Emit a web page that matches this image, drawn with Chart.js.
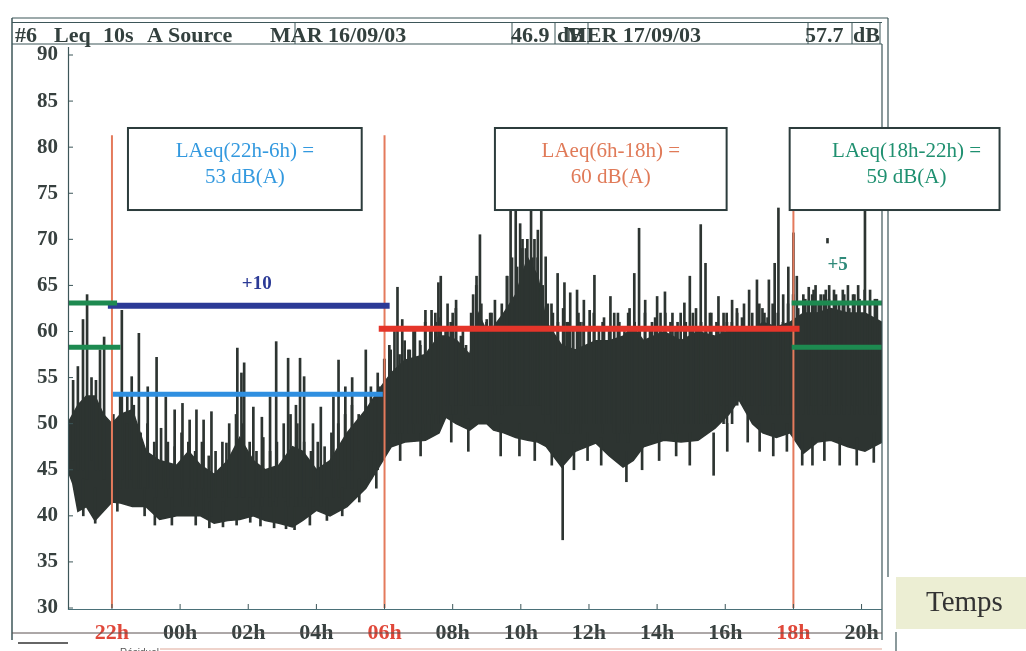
<!DOCTYPE html>
<html><head><meta charset="utf-8">
<script src="https://cdn.jsdelivr.net/npm/chart.js@4/dist/chart.umd.min.js"></script>
<style>html,body{margin:0;padding:0;background:#fff;overflow:hidden}canvas{display:block}</style>
</head><body>
<canvas id="c" width="1026" height="651" style="width:1026px;height:651px"></canvas>
<script>
// ---- axis ticks ----
const xTickValues = [22, 24, 26, 28, 30, 32, 34, 36, 38, 40, 42, 44];
const xTickLabels = ['22h', '00h', '02h', '04h', '06h', '08h', '10h', '12h', '14h', '16h', '18h', '20h'];
const periodHours = [22, 30, 42];          // 22h, 06h, 18h period limits
const periodLineTop = 81.3;

// ---- Leq 10s trace, dense core envelope (hours since 00h of 16/09) ----
const envHours = [20.70, 20.85, 21.00, 21.25, 21.50, 21.75, 22.00, 22.25, 22.60, 23.00, 23.40, 23.90, 24.25, 24.60, 25.00, 25.40, 25.75, 26.15, 26.50, 26.90, 27.30, 27.60, 28.00, 28.40, 28.90, 29.45, 29.90, 30.20, 30.60, 31.20, 31.60, 31.80, 32.10, 32.50, 32.75, 33.00, 33.20, 33.50, 33.85, 34.20, 34.50, 34.75, 35.20, 35.60, 36.20, 36.60, 37.00, 37.30, 37.60, 38.20, 38.70, 39.20, 39.70, 40.10, 40.40, 40.80, 41.10, 41.50, 41.90, 42.30, 42.70, 43.10, 43.60, 44.10, 44.60];
const envLow = [45, 43.5, 40.5, 41, 39.5, 40.5, 41.5, 41.4, 41, 41, 39.6, 40, 40, 40, 39.2, 39.5, 39.6, 40, 39.5, 39.2, 38.8, 39.5, 40.6, 40, 41, 43, 45.7, 47.5, 48, 48.2, 49, 50.7, 50, 49.3, 50, 50, 49.3, 49, 48.5, 48.2, 48, 47.5, 45.3, 47, 47.9, 46.5, 45.3, 46, 47.5, 48.2, 48, 48.2, 49.5, 51, 52.6, 50, 49, 48.5, 49, 46.8, 48, 48.2, 47.5, 47, 48];
const envHigh = [50, 51, 52, 53, 53, 51, 50, 51, 51.5, 47, 46, 45.5, 47, 45.5, 44.5, 46, 48.5, 46, 45, 45.5, 47.5, 47, 45, 46, 49, 51.5, 54, 55.5, 56.9, 57.5, 59.5, 59.5, 59.1, 57.5, 62, 60, 60.5, 62, 64, 68, 66, 61, 58.5, 58, 59, 59, 59.5, 60.5, 59, 60, 59, 60, 59.5, 60, 60.5, 60, 61, 60.5, 61, 62, 62, 62.5, 62, 62, 61];

// ---- upward peaks ----
const peakHours = [20.86, 21.00, 21.15, 21.27, 21.40, 21.53, 21.65, 21.77, 22.29, 22.45, 22.58, 22.79, 23.05, 23.31, 23.58, 23.84, 24.07, 24.28, 24.48, 24.69, 24.92, 25.36, 25.68, 25.80, 25.88, 26.15, 26.40, 26.64, 26.82, 27.17, 27.40, 27.52, 27.64, 27.90, 28.13, 28.50, 28.65, 28.85, 29.05, 29.45, 29.60, 29.80, 30.00, 30.18, 30.38, 30.52, 30.70, 30.85, 31.05, 31.20, 31.38, 31.50, 31.58, 31.65, 31.85, 32.00, 32.10, 32.30, 32.60, 32.70, 32.80, 33.00, 33.10, 33.24, 33.45, 33.60, 33.70, 33.85, 33.98, 34.05, 34.15, 34.30, 34.40, 34.50, 34.60, 34.73, 34.90, 35.08, 35.28, 35.35, 35.45, 35.65, 35.75, 35.85, 36.02, 36.16, 36.40, 36.63, 36.85, 37.15, 37.33, 37.47, 37.65, 37.85, 38.00, 38.10, 38.23, 38.45, 38.60, 38.80, 38.96, 39.05, 39.28, 39.42, 39.55, 39.80, 39.95, 40.05, 40.20, 40.35, 40.55, 40.70, 40.93, 41.00, 41.15, 41.28, 41.45, 41.56, 41.70, 41.85, 42.00, 42.10, 42.35, 42.45, 42.55, 42.65, 42.80, 42.95, 43.00, 43.05, 43.25, 43.45, 43.60, 43.75, 43.90, 44.10, 44.25, 44.45];
const peakLow = [46, 45, 45, 44, 46, 45, 45, 44, 44, 44, 44, 43, 43, 42, 42, 41, 41, 41, 41, 40, 40, 41, 42, 42, 42, 41, 41, 41, 41, 41, 41, 41, 41, 41, 41, 42, 42, 43, 43, 44, 44, 45, 47, 48, 48, 49, 49, 49, 49, 49, 49, 50, 50, 50, 51, 51, 51, 50, 52, 52, 52, 52, 50, 51, 51, 52, 52, 52, 52, 52, 52, 52, 52, 52, 52, 50, 50, 50, 50, 49, 50, 50, 49, 50, 50, 50, 49, 50, 48, 48, 50, 50, 50, 49, 50, 49, 50, 49, 49, 50, 50, 50, 50, 50, 50, 50, 50, 50, 50, 52, 52, 52, 52, 52, 52, 52, 52, 52, 52, 52, 52, 52, 52, 52, 52, 52, 52, 52, 69.6, 52, 52, 52, 52, 52, 52, 54, 52, 52];
const peakHigh = [54.7, 56.2, 61.3, 64.0, 55, 54.7, 58, 59.4, 62.3, 53, 55.1, 59.8, 54, 57.2, 52.9, 51.5, 52.2, 50.4, 51.5, 50.4, 51.3, 47.9, 58.2, 55.5, 56.6, 51.8, 50.7, 52.9, 58.9, 57.1, 52, 57.1, 55.1, 50, 51.8, 52.9, 56.9, 54, 55, 58, 54, 55.5, 57, 58, 64.8, 61.3, 58, 60, 58.5, 62.3, 62.3, 61, 65.3, 66, 63, 62, 63.4, 60, 64, 66, 70.5, 61.3, 62, 63.4, 60, 66, 75, 75, 71.7, 70, 69, 75, 70, 71, 75, 68.1, 63, 66.3, 65.3, 61, 64.2, 64.5, 61, 63.4, 62.3, 66.1, 61, 63.8, 62, 62, 66.3, 71.2, 63.4, 61, 63.8, 62, 64.3, 62, 61, 63.1, 66, 62, 71.6, 67.4, 62, 63.8, 62, 61, 63.4, 62, 63, 64.5, 65.6, 63, 62, 65.6, 67.4, 73.4, 64, 67, 70.7, 66, 63.5, 64.8, 64, 65, 64, 64.5, 70.1, 65, 64, 64.5, 65, 64, 65, 75, 64.5, 63.5];

// ---- dense background fluctuation lines ----
const midHours = [22.1, 22.3, 22.5, 22.7, 22.9, 23.1, 23.3, 23.5, 23.7, 23.9, 24.1, 24.3, 24.5, 24.7, 24.9, 25.1, 25.3, 25.5, 25.7, 25.9, 26.1, 26.3, 26.5, 26.7, 26.9, 27.1, 27.3, 27.5, 27.7, 27.9, 28.1, 28.3, 28.5, 28.7, 28.9, 29.1, 29.3, 29.5, 29.7, 29.9,
  30.05, 30.20, 30.35, 30.50, 30.65, 30.80, 30.95, 31.10, 31.25, 31.40, 31.55, 31.70, 31.85, 32.00, 32.15, 32.30, 32.45, 32.60, 32.75, 32.90, 33.05, 33.20, 33.35, 33.50, 33.65, 33.80, 33.95, 34.10, 34.25, 34.40, 34.55, 34.70, 34.85, 35.00, 35.15, 35.30, 35.45, 35.60, 35.75, 35.90, 36.05, 36.20, 36.35, 36.50, 36.65, 36.80, 36.95, 37.10, 37.25, 37.40, 37.55, 37.70, 37.85, 38.00, 38.15, 38.30, 38.45, 38.60, 38.75, 38.90, 39.05, 39.20, 39.35, 39.50, 39.65, 39.80, 39.95, 40.10, 40.25, 40.40, 40.55, 40.70, 40.85, 41.00, 41.15, 41.30, 41.45, 41.60, 41.75, 41.90, 42.05, 42.20, 42.35, 42.50, 42.65, 42.80, 42.95, 43.10, 43.25, 43.40, 43.55, 43.70, 43.85, 44.00, 44.15, 44.30, 44.45];
const midLow = [43, 43, 43, 43, 43, 43, 43, 43, 43, 43, 43, 43, 43, 43, 42, 42, 42, 42, 42, 42, 42, 42, 42, 42, 42, 42, 42, 42, 42, 42, 43, 43, 44, 44, 45, 45, 46, 46, 47, 48,
  49, 49, 49, 49, 50, 50, 50, 50, 50, 51, 51, 51, 52, 52, 52, 52, 51, 52, 52, 52, 52, 52, 52, 52, 52, 52, 52, 52, 52, 52, 52, 51, 51, 50, 49, 49, 49, 49, 50, 50, 50, 50, 50, 50, 50, 49, 49, 49, 49, 50, 50, 50, 50, 50, 50, 50, 50, 50, 50, 50, 50, 50, 50, 51, 51, 51, 52, 52, 53, 53, 53, 52, 52, 51, 51, 51, 51, 51, 51, 51, 51, 51, 51, 51, 51, 51, 51, 51, 51, 51, 51, 51, 51, 51, 51, 51, 51];
const midHigh = [51, 53, 50, 52, 49, 50, 48, 49.5, 48, 47.5, 49, 48, 47, 48, 46.5, 47, 48, 50, 51, 50, 48, 47, 48.5, 47, 48, 50, 51, 50, 48, 47, 48, 47.5, 49, 50, 51, 52, 51, 53, 52.5, 54,
  57, 58.5, 60, 57.5, 59, 58, 60.5, 59, 61, 60, 62, 61.5, 60, 61, 62.5, 59.5, 58.5, 62, 65, 63, 61, 62, 61, 63, 66, 68, 67, 69, 70, 68, 68, 65, 63, 62, 61, 62.5, 61, 60.5, 62, 61, 60, 62, 60.5, 61.5, 60, 62, 61, 60, 62.5, 61, 60, 62, 60.5, 61.5, 60, 62, 61, 60, 62, 61, 60.5, 62.5, 61, 60, 62, 61, 60.5, 62, 61, 62.5, 61.5, 60.5, 62, 61, 62.5, 61.5, 63, 62, 61, 63, 64, 62.5, 64, 63, 64.5, 63, 64, 63.5, 64.5, 63, 64, 62.5, 64, 63.5, 64.5, 63, 63.5];

// ---- downward dips ----
const dipHours = [21.10, 21.45, 22.10, 22.90, 23.20, 23.70, 24.40, 24.80, 25.20, 25.60, 26.00, 26.30, 26.70, 27.05, 27.30, 27.75, 28.25, 28.70, 29.20, 29.70, 30.40, 31.00, 31.90, 32.40, 33.35, 33.90, 34.35, 34.85, 35.17, 35.50, 35.90, 36.30, 37.04, 37.50, 38.00, 38.50, 38.90, 39.60, 40.00, 40.60, 40.95, 41.35, 41.75, 42.20, 42.50, 42.85, 43.30, 43.80, 44.30];
const dipLow = [40, 39.2, 40.5, 40, 39, 39, 39, 38.7, 38.8, 39, 39.3, 38.9, 38.7, 38.6, 38.5, 39, 39.5, 40, 41.5, 43, 46, 46.5, 48, 47, 46.5, 46.5, 46, 45.5, 37.4, 45, 46, 45.5, 43.7, 45, 46, 46.5, 45.5, 44.4, 47, 48, 47, 46.5, 47, 45.5, 45.5, 46, 45.5, 45.5, 45.8];
const dipHigh = [44, 43, 44, 43, 42, 42, 42, 41.5, 41.5, 42, 42, 42, 41.5, 41.5, 41, 42, 42, 43, 44, 46, 49, 49.5, 51, 50.5, 50, 50, 49, 49, 47, 48, 49, 48.5, 47, 48, 49, 49, 49, 49, 50, 51, 50, 50, 50, 49, 48.5, 49, 48.5, 48.5, 49];

// ---- LAeq levels and limits (dB(A)) with their time spans ----
const eveningLeq = 58.3, eveningLimit = 63.1;
const nightLeq = 53.2, nightLimit = 62.8;
const dayLeq = 60.3;
const eveningStartSpan = [20.62, 22.15];
const nightLimitSpan = [21.88, 30.15];
const nightLeqSpan = [22.03, 29.95];
const daySpan = [29.83, 42.18];
const eveningEndSpan = [41.95, 44.6];

const TRACE = '#2d3431';
const pts = (hs, vs) => hs.map((h, i) => ({x: h, y: vs[i]}));
const bars = (hs, lo, hi) => hs.map((h, i) => ({x: h, y: [lo[i], hi[i]]}));
const hline = (span, v, color, w) => ({type: 'line', data: [{x: span[0], y: v}, {x: span[1], y: v}], borderColor: color, borderWidth: w, pointRadius: 0, order: 1, borderCapStyle: 'butt'});

const datasets = [
  {type: 'line', data: pts(envHours, envLow), borderColor: TRACE, borderWidth: 1.5, pointRadius: 0, fill: false, order: 10},
  {type: 'line', data: pts(envHours, envHigh), borderColor: TRACE, borderWidth: 1.5, pointRadius: 0, fill: '-1', backgroundColor: TRACE, order: 10},
  {type: 'bar', data: bars(midHours, midLow, midHigh), backgroundColor: TRACE, barThickness: 2, order: 9},
  {type: 'bar', data: bars(peakHours, peakLow, peakHigh), backgroundColor: TRACE, barThickness: 2, order: 9},
  {type: 'bar', data: bars(dipHours, dipLow, dipHigh), backgroundColor: TRACE, barThickness: 2, order: 9}
];
periodHours.forEach(h => datasets.push({type: 'line', data: [{x: h, y: 30}, {x: h, y: periodLineTop}], borderColor: '#e47a5c', borderWidth: 2, pointRadius: 0, order: 2}));
datasets.push(hline(eveningStartSpan, eveningLimit, '#1d8a50', 5));
datasets.push(hline([eveningStartSpan[0], eveningStartSpan[1] + 0.1], eveningLeq, '#1d8a50', 5));
datasets.push(hline(nightLimitSpan, nightLimit, '#2b3a96', 6));
datasets.push(hline(nightLeqSpan, nightLeq, '#2f8fe0', 5));
datasets.push(hline(daySpan, dayLeq, '#e5352a', 6));
datasets.push(hline(eveningEndSpan, eveningLimit, '#1d8a50', 5));
datasets.push(hline(eveningEndSpan, eveningLeq, '#1d8a50', 5));

const notes = [
  {x0: 22.47, x1: 29.33, cx: 25.90, lines: ['LAeq(22h-6h) =', '53 dB(A)'], color: '#3399df'},
  {x0: 33.24, x1: 40.04, cx: 36.64, lines: ['LAeq(6h-18h) =', '60 dB(A)'], color: '#e07a58'},
  {x0: 41.89, x1: 48.05, cx: 45.32, lines: ['LAeq(18h-22h) =', '59 dB(A)'], color: '#1f9070'}
];

const decor = {
  id: 'decor',
  afterDraw(chart) {
    const c = chart.ctx, X = chart.scales.x, Y = chart.scales.y;
    const px = v => X.getPixelForValue(v), py = v => Y.getPixelForValue(v);
    const line = (x1, y1, x2, y2, col, w) => { c.beginPath(); c.moveTo(x1, y1); c.lineTo(x2, y2); c.strokeStyle = col; c.lineWidth = w; c.stroke(); };
    c.save();
    const FR = '#3d5659';
    // frame
    line(12, 18, 888, 18, FR, 1.2);
    line(12, 22.5, 882, 22.5, FR, 1.2);
    line(12, 44, 882, 44, FR, 1.2);
    line(12, 18, 12, 640, FR, 1.5);
    line(888, 18, 888, 577, FR, 1.2);
    [295, 512, 555, 588, 808, 852, 880].forEach(x => line(x, 22, x, 44, FR, 1));
    line(882, 44, 882, 640, FR, 1.2);
    line(68.5, 47, 68.5, 610, FR, 1.2);
    line(68, 609.5, 882, 609.5, '#4a7078', 1.2);
    line(12, 633, 882, 633, '#5a5050', 1);
    line(160, 649, 882, 649, '#e0a898', 1.2);
    line(896, 632, 896, 651, FR, 1.2);
    // inner ticks
    for (let v = 30; v <= 90; v += 5) line(68, py(v), 73, py(v), FR, 1);
    xTickValues.forEach(v => line(px(v), 604, px(v), 609, FR, 1));
    // header texts
    c.fillStyle = '#33403e';
    c.font = 'bold 22px "Liberation Serif"';
    c.textBaseline = 'alphabetic'; c.textAlign = 'left';
    [['#6', 15], ['Leq', 54], ['10s', 103], ['A', 147], ['Source', 168], ['MAR 16/09/03', 270], ['46.9', 511], ['dB', 557], ['MER 17/09/03', 566], ['57.7', 805], ['dB', 853]]
      .forEach(([t, x]) => c.fillText(t, x, 42));
    // annotation boxes
    notes.forEach(n => {
      const x0 = px(n.x0), x1 = px(n.x1), y0 = py(82.08), y1 = py(73.18);
      c.fillStyle = '#fff'; c.fillRect(x0, y0, x1 - x0, y1 - y0);
      c.strokeStyle = '#2c3c3c'; c.lineWidth = 2; c.strokeRect(x0, y0, x1 - x0, y1 - y0);
      c.fillStyle = n.color; c.font = '21px "Liberation Serif"'; c.textAlign = 'center'; c.textBaseline = 'middle';
      c.fillText(n.lines[0], px(n.cx), py(79.48));
      c.fillText(n.lines[1], px(n.cx), py(76.66));
    });
    c.font = 'bold 19px "Liberation Serif"'; c.textAlign = 'center'; c.textBaseline = 'middle';
    c.fillStyle = '#2b3a96'; c.fillText('+10', px(26.25), py(65.15));
    c.fillStyle = '#2f8a7a'; c.fillText('+5', px(43.3), py(67.22));
    // Temps box
    c.fillStyle = '#eceed3'; c.fillRect(896, 577, 130, 52);
    c.fillStyle = '#333'; c.font = '29px "Liberation Serif"'; c.textAlign = 'left'; c.textBaseline = 'middle';
    c.fillText('Temps', 926, 603);
    // legend remnant
    line(18, 643, 68, 643, '#333', 1.5);
    c.font = '10px "Liberation Sans"'; c.fillStyle = '#555'; c.textBaseline = 'alphabetic';
    c.fillText('Résiduel', 120, 656);
    c.restore();
  }
};

new Chart(document.getElementById('c'), {
  type: 'line',
  data: {datasets},
  options: {
    responsive: false, animation: false,
    layout: {padding: {left: 0, right: 144, top: 55, bottom: 0}},
    plugins: {legend: {display: false}, tooltip: {enabled: false}},
    scales: {
      x: {
        type: 'linear', min: 20.71, max: 44.6, offset: false,
        grid: {display: false, drawTicks: false}, border: {display: false},
        afterBuildTicks: s => { s.ticks = xTickValues.map(v => ({value: v})); },
        afterFit: s => { s.height = 43; },
        ticks: {
          padding: 12, autoSkip: false, maxRotation: 0,
          font: {family: 'Liberation Serif', size: 22, weight: 'bold'},
          color: ctx => periodHours.includes(ctx.tick.value) ? '#e0483a' : '#37403f',
          callback: v => xTickLabels[xTickValues.indexOf(v)]
        }
      },
      y: {
        type: 'linear', min: 30, max: 90,
        grid: {display: false, drawTicks: false}, border: {display: false},
        afterFit: s => { s.width = 68; },
        ticks: {stepSize: 5, padding: 10, font: {family: 'Liberation Serif', size: 21, weight: 'bold'}, color: '#37403f'}
      }
    }
  },
  plugins: [decor]
});
</script>
</body></html>
